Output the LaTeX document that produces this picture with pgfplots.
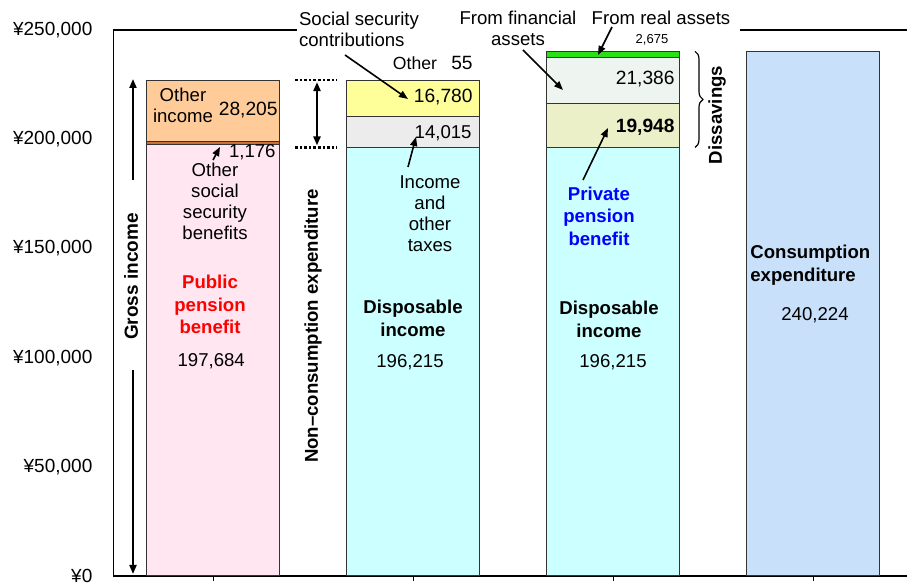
\documentclass[border=0pt]{standalone}
\usepackage{fontspec}
\setmainfont{Liberation Sans}
\usepackage{pgfplots}
\pgfplotsset{compat=1.18}
\usetikzlibrary{arrows.meta,decorations.pathreplacing}

\definecolor{pubpen}{RGB}{255,230,240}
\definecolor{dispinc}{RGB}{204,255,255}
\definecolor{consexp}{RGB}{200,224,250}
\definecolor{othss}{RGB}{205,110,50}
\definecolor{taxes}{RGB}{236,236,236}
\definecolor{privpen}{RGB}{235,240,200}
\definecolor{othinc}{RGB}{255,204,153}
\definecolor{sscontr}{RGB}{255,255,153}
\definecolor{finass}{RGB}{238,244,240}
\definecolor{realass}{RGB}{40,225,20}

% labels and arrows, drawn after the bars
\newcommand{\annotations}{%
% top frame line, broken by the labels above the plot
\draw[line width=0.7pt] (axis cs:-0.5,250000) -- (axis cs:0.433,250000);
\draw[line width=0.7pt] (axis cs:2.633,250000) -- (axis cs:3.5,250000);
% column 0: gross income
\node[lbl] at (axis cs:-0.152,215433) {Other\\income};
\node[lbl, anchor=east, font=\fontsize{9.6}{11}\selectfont] at (axis cs:0.323,213372) {28,205};
\node[lbl, anchor=east] at (axis cs:0.313,194141) {1,176};
\draw[arr] (axis cs:-0.002,190478) -- (axis cs:0.033,196431);
\node[lbl] at (axis cs:0.008,171476) {Other\\social\\security\\benefits};
\node[bl, text=red] at (axis cs:-0.017,124314) {Public\\pension\\benefit};
\node[lbl] at (axis cs:-0.011,98444) {197,684};
\node[rotate=90, font=\fontsize{9.5}{11}\selectfont\bfseries] at (axis cs:-0.412,137135) {Gross income};
\draw[arr, line width=1pt] (axis cs:-0.402,181320) -- (axis cs:-0.402,227566);
\draw[arr, line width=1pt] (axis cs:-0.402,94323) -- (axis cs:-0.402,916);
% non-consumption expenditure bracket
\draw[densely dotted, line width=1.3pt] (axis cs:0.408,227065) -- (axis cs:0.618,227065);
\draw[densely dotted, line width=1.3pt] (axis cs:0.408,196215) -- (axis cs:0.618,196215);
\draw[{Triangle[length=4.5pt,width=3.5pt]}-{Triangle[length=4.5pt,width=3.5pt]}, line width=1.1pt]
  (axis cs:0.518,226150) -- (axis cs:0.518,197130);
\node[rotate=90, font=\fontsize{9.3}{11}\selectfont\bfseries] at (axis cs:0.498,114470) {Non--consumption expenditure};
% column 1
\node[lbl, align=left, fill=white, inner sep=1pt] at (axis cs:0.728,250460) {Social security\\contributions};
\draw[arr] (axis cs:0.658,238555) -- (axis cs:0.973,218409);
\node[lbl, font=\fontsize{8.8}{10}\selectfont] at (axis cs:1.008,234892) {Other};
\node[lbl, font=\fontsize{9.6}{11}\selectfont] at (axis cs:1.243,234892) {55};
\node[lbl, anchor=east, font=\fontsize{9.6}{11}\selectfont] at (axis cs:1.298,219325) {16,780};
\node[lbl, anchor=east] at (axis cs:1.293,202841) {14,015};
\draw[arr] (axis cs:0.973,187273) -- (axis cs:1.013,201009);
\node[lbl] at (axis cs:1.083,165753) {Income\\and\\other\\taxes};
\node[bl] at (axis cs:0.998,117904) {Disposable\\income};
\node[lbl] at (axis cs:0.983,97986) {196,215};
% column 2
\node[lbl, fill=white, inner sep=1pt] at (axis cs:1.523,250918) {From financial\\assets};
\draw[arr] (axis cs:1.548,240845) -- (axis cs:1.748,222530);
\node[lbl, fill=white, inner sep=1pt] at (axis cs:2.238,255497) {From real assets};
\draw[arr] (axis cs:1.993,251376) -- (axis cs:1.923,238555);
\node[lbl, font=\fontsize{6.5}{8}\selectfont] at (axis cs:2.193,245424) {2,675};
\node[lbl, anchor=east, font=\fontsize{9.6}{11}\selectfont] at (axis cs:2.308,227566) {21,386};
\node[lbl, anchor=east, font=\fontsize{9.6}{11}\selectfont\bfseries] at (axis cs:2.308,205588) {19,948};
\draw[arr] (axis cs:1.848,181320) -- (axis cs:1.973,205130);
\node[bl, text=blue] at (axis cs:1.928,164837) {Private\\pension\\benefit};
\node[bl] at (axis cs:1.978,117446) {Disposable\\income};
\node[lbl] at (axis cs:1.998,97986) {196,215};
\draw[decorate, decoration={brace, amplitude=4pt}, line width=0.6pt]
  (axis cs:2.408,240224) -- (axis cs:2.408,196215);
\node[rotate=90, font=\fontsize{9.3}{11}\selectfont\bfseries] at (axis cs:2.518,211083) {Dissavings};
% column 3
\node[bl, anchor=west, align=left] at (axis cs:2.683,142401) {Consumption\\expenditure};
\node[lbl] at (axis cs:3.008,119507) {240,224};
}

\begin{document}
\begin{tikzpicture}[font=\fontsize{9.3}{10.5}\selectfont,
  arr/.style={-{Triangle[length=4.5pt,width=3.5pt]}, line width=0.8pt},
  lbl/.style={inner sep=0pt, align=center},
  bl/.style={inner sep=0pt, align=center, font=\fontsize{9.3}{11.3}\selectfont\bfseries}]
\path[use as bounding box] (-56.7pt,-3.5pt) rectangle (396.8pt,288pt);
\begin{axis}[
  scale only axis, width=400pt, height=273pt,
  xmin=-0.5, xmax=3.5, ymin=0, ymax=250000,
  axis lines*=left,
  axis line style={line width=0.7pt},
  ybar stacked, bar width=66.5pt,
  clip=false,
  xtick={0,1,2,3}, xticklabels={},
  tick align=outside, major tick length=2.5pt,
  x tick style={black, line width=0.5pt},
  ytick={0,50000,100000,150000,200000,250000},
  yticklabels={¥0,{¥50,000},{¥100,000},{¥150,000},{¥200,000},{¥250,000}},
  scaled y ticks=false,
  y tick style={draw=none},
  yticklabel style={font=\fontsize{9.5}{11}\selectfont, xshift=-4.5pt},
  every axis plot/.append style={draw=black!80, line width=0.5pt},
  after end axis/.code={\annotations},
]
% layer 1
\addplot[fill=pubpen]  coordinates {(0,197684)(1,0)(2,0)(3,0)};
\addplot[fill=dispinc] coordinates {(0,0)(1,196215)(2,196215)(3,0)};
\addplot[fill=consexp] coordinates {(0,0)(1,0)(2,0)(3,240224)};
% layer 2
\addplot[fill=othss]   coordinates {(0,1176)(1,0)(2,0)(3,0)};
\addplot[fill=taxes]   coordinates {(0,0)(1,14015)(2,0)(3,0)};
\addplot[fill=privpen] coordinates {(0,0)(1,0)(2,19948)(3,0)};
% layer 3
\addplot[fill=othinc]  coordinates {(0,28205)(1,0)(2,0)(3,0)};
\addplot[fill=sscontr] coordinates {(0,0)(1,16780)(2,0)(3,0)};
\addplot[fill=finass]  coordinates {(0,0)(1,0)(2,21386)(3,0)};
% layer 4
\addplot[fill=sscontr] coordinates {(0,0)(1,55)(2,0)(3,0)};
\addplot[fill=realass] coordinates {(0,0)(1,0)(2,2675)(3,0)};
\end{axis}
\end{tikzpicture}
\end{document}
